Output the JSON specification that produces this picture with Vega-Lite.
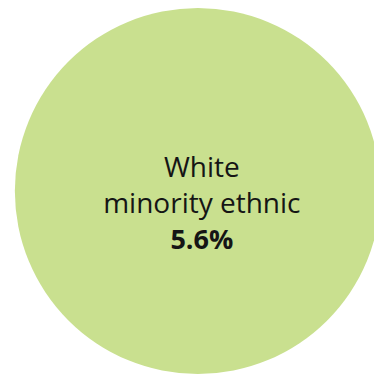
{
  "$schema": "https://vega.github.io/schema/vega-lite/v6.json",
  "width": 374,
  "height": 376,
  "padding": 0,
  "autosize": {"type": "none"},
  "background": "white",
  "config": {"view": {"stroke": null}},
  "data": {"values": [{"group": "White\nminority ethnic", "share": 0.056, "px": 52.9, "py": 49.2}]},
  "encoding": {
    "x": {"field": "px", "type": "quantitative", "scale": {"domain": [0, 100]}, "axis": null},
    "y": {"field": "py", "type": "quantitative", "scale": {"domain": [0, 100]}, "axis": null}
  },
  "layer": [
    {"mark": {"type": "point", "shape": "circle", "filled": true, "opacity": 1, "size": 133956, "color": "#c9e08f"}},
    {"mark": {"type": "text", "font": "Open Sans", "fontSize": 28, "lineHeight": 36, "baseline": "alphabetic", "align": "center", "dx": 4, "dy": -14, "color": "#151515", "lineBreak": "\n"},
     "encoding": {"text": {"field": "group", "type": "nominal"}}},
    {"mark": {"type": "text", "font": "Open Sans", "fontSize": 27, "fontWeight": "bold", "baseline": "alphabetic", "align": "center", "dx": 4, "dy": 58, "color": "#151515"},
     "encoding": {"text": {"field": "share", "type": "quantitative", "format": ".1%"}}}
  ]
}
